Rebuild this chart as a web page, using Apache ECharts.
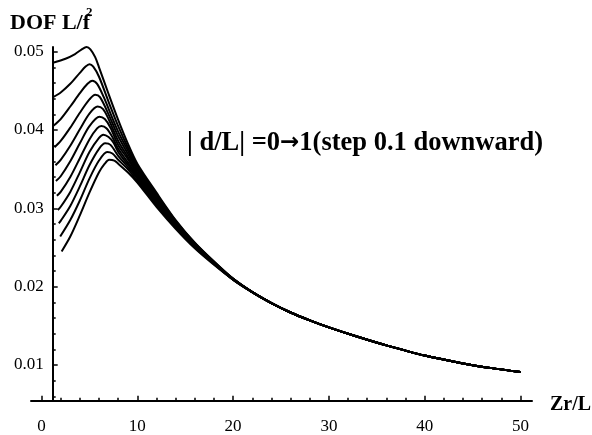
<!DOCTYPE html>
<html>
<head>
<meta charset="utf-8">
<script src="https://cdn.jsdelivr.net/npm/echarts@6/dist/echarts.min.js"></script>
<style>html,body{margin:0;padding:0;background:#fff;}#c{width:592px;height:435px;}</style>
</head>
<body>
<div id="c"></div>
<script>
// Tick positions / labels
const xMajorTicks = [0, 10, 20, 30, 40, 50];
const xMinorTicks = [2, 4, 6, 8, 12, 14, 16, 18, 22, 24, 26, 28, 32, 34, 36, 38, 42, 44, 46, 48];
const yMajorTicks = [0.01, 0.02, 0.03, 0.04, 0.05];
const yMinorTicks = [0.006, 0.008, 0.012, 0.014, 0.016, 0.018, 0.022, 0.024, 0.026, 0.028,
                     0.032, 0.034, 0.036, 0.038, 0.042, 0.044, 0.046, 0.048];

// |d/L| values, one curve each
const dValues = [0, 0.1, 0.2, 0.3, 0.4, 0.5, 0.6, 0.7, 0.8, 0.9, 1.0];

// Left (distinct) parts of each curve [Zr/L, DOF L/f^2]
const curveD00 = [[1.2,0.0486],[2.5,0.0491],[3.5,0.0497],[4.2,0.0503],[4.7,0.0506],[5.1,0.0503],[5.6,0.0493],[6,0.0480],[7,0.0446],[8,0.0413],[9,0.0383],[10,0.0357],[12,0.0320],[14,0.0285],[16,0.0256],[18,0.0232],[20,0.0210]];
const curveD01 = [[1.2,0.0442],[2,0.0448],[3,0.0459],[4,0.0473],[4.6,0.0481],[5.0,0.0484],[5.4,0.0481],[6,0.0468],[7,0.0436],[8,0.0405],[9,0.0378],[10,0.0354],[12,0.0318],[14,0.0284],[16,0.0256],[18,0.0232],[20,0.0210]];
const curveD02 = [[1.2,0.0405],[2,0.0414],[3,0.0430],[4,0.0447],[4.8,0.0459],[5.3,0.0463],[5.8,0.0459],[6.5,0.0442],[7,0.0427],[8,0.0398],[9,0.0374],[10,0.0351],[12,0.0316],[14,0.0283],[16,0.0255],[18,0.0231],[20,0.0210]];
const curveD03 = [[1.35,0.0378],[2,0.0386],[3,0.0403],[4,0.0422],[5,0.0439],[5.6,0.0445],[6.1,0.0442],[7,0.0420],[8,0.0392],[9,0.0370],[10,0.0349],[12,0.0314],[14,0.0282],[16,0.0254],[18,0.0231],[20,0.0210]];
const curveD04 = [[1.45,0.0355],[2,0.0362],[3,0.0380],[4,0.0401],[5,0.0421],[5.85,0.0430],[6.4,0.0427],[7,0.0414],[8,0.0386],[9,0.0366],[10,0.0346],[12,0.0312],[14,0.0281],[16,0.0254],[18,0.0231],[20,0.0210]];
const curveD05 = [[1.5,0.0335],[2,0.0341],[3,0.0360],[4,0.0383],[5,0.0405],[6.05,0.0417],[6.6,0.0414],[7.2,0.0403],[8,0.0381],[9,0.0363],[10,0.0344],[12,0.0311],[14,0.0280],[16,0.0253],[18,0.0230],[20,0.0210]];
const curveD06 = [[1.6,0.0316],[2,0.0321],[3,0.0340],[4,0.0364],[5,0.0388],[5.8,0.0402],[6.25,0.0405],[6.8,0.0402],[7.4,0.0391],[8,0.0376],[9,0.0359],[10,0.0342],[12,0.0309],[14,0.0279],[16,0.0252],[18,0.0230],[20,0.0209]];
const curveD07 = [[1.7,0.0298],[2,0.0302],[3,0.0321],[4,0.0346],[5,0.0372],[6,0.0390],[6.45,0.0394],[7,0.0391],[7.5,0.0384],[8,0.0372],[9,0.0356],[10,0.0340],[12,0.0307],[14,0.0278],[16,0.0252],[18,0.0230],[20,0.0209]];
const curveD08 = [[1.8,0.0281],[2,0.0284],[3,0.0303],[4,0.0328],[5,0.0355],[6,0.0376],[6.65,0.0383],[7.2,0.0381],[8,0.0367],[9,0.0353],[10,0.0338],[12,0.0305],[14,0.0277],[16,0.0251],[18,0.0229],[20,0.0209]];
const curveD09 = [[1.95,0.0264],[3,0.0285],[4,0.0310],[5,0.0338],[6,0.0361],[6.85,0.0372],[7.4,0.0370],[8,0.0362],[9,0.0350],[10,0.0335],[12,0.0304],[14,0.0276],[16,0.0250],[18,0.0229],[20,0.0209]];
const curveD10 = [[2.1,0.0245],[3,0.0264],[4,0.0291],[5,0.0320],[6,0.0346],[6.6,0.0357],[7.05,0.0362],[7.6,0.0361],[8,0.0357],[9,0.0346],[10,0.0333],[12,0.0302],[14,0.0274],[16,0.0249],[18,0.0228],[20,0.0209]];

// Common right part where all curves coincide
const commonTail = [[22,0.0193],[24,0.0179],[26,0.0167],[28,0.0157],[30,0.0148],[33,0.0136],[36,0.0125],[40,0.0112],[44,0.0102],[47,0.0096],[50,0.0091]];

const curveHeads = [curveD00, curveD01, curveD02, curveD03, curveD04, curveD05, curveD06, curveD07, curveD08, curveD09, curveD10];

const X_MIN = -1.1, X_MAX = 51.2, Y_MIN = 0.00544, Y_MAX = 0.0506;
const FONT = '"Liberation Serif", "DejaVu Serif", serif';

const chart = echarts.init(document.getElementById('c'), null, {renderer: 'canvas'});

const gridBox = {left: 31, right: 60, top: 47, bottom: 34.3};
const yOffset = -21.7;

const series = curveHeads.map((head, i) => ({
  name: '|d/L|=' + dValues[i],
  type: 'line',
  xAxisIndex: 0,
  yAxisIndex: 0,
  data: head.concat(commonTail),
  showSymbol: false,
  symbol: 'none',
  smooth: 0.3,
  clip: false,
  lineStyle: {color: '#000', width: 2},
  silent: true
}));

chart.setOption({
  animation: false,
  backgroundColor: '#fff',
  grid: [
    Object.assign({}, gridBox),
    Object.assign({}, gridBox)
  ],
  xAxis: [
    {
      gridIndex: 0, type: 'value', min: X_MIN, max: X_MAX, position: 'bottom',
      axisLine: {show: true, lineStyle: {color: '#000', width: 2}},
      axisTick: {show: true, inside: true, length: 5, lineStyle: {color: '#000', width: 1.5}, customValues: xMajorTicks},
      axisLabel: {show: true, customValues: xMajorTicks, margin: 17, color: '#000', fontSize: 17, fontFamily: FONT,
                  formatter: v => String(Math.round(v))},
      splitLine: {show: false}
    },
    {
      gridIndex: 1, type: 'value', min: X_MIN, max: X_MAX, position: 'bottom',
      axisLine: {show: false},
      axisTick: {show: true, inside: true, length: 3, lineStyle: {color: '#000', width: 1.5}, customValues: xMinorTicks},
      axisLabel: {show: false},
      splitLine: {show: false}
    }
  ],
  yAxis: [
    {
      gridIndex: 0, type: 'value', min: Y_MIN, max: Y_MAX, position: 'left', offset: yOffset,
      axisLine: {show: true, lineStyle: {color: '#000', width: 2}},
      axisTick: {show: true, inside: true, length: 5, lineStyle: {color: '#000', width: 1.5}, customValues: yMajorTicks},
      axisLabel: {show: true, customValues: yMajorTicks, margin: 9, color: '#000', fontSize: 17, fontFamily: FONT,
                  formatter: v => v.toFixed(2)},
      splitLine: {show: false}
    },
    {
      gridIndex: 1, type: 'value', min: Y_MIN, max: Y_MAX, position: 'left', offset: yOffset,
      axisLine: {show: false},
      axisTick: {show: true, inside: true, length: 3, lineStyle: {color: '#000', width: 1.5}, customValues: yMinorTicks},
      axisLabel: {show: false},
      splitLine: {show: false}
    }
  ],
  graphic: [
    {type: 'text', x: 10, y: 23, style: {text: 'DOF L/f', font: 'bold 22px ' + FONT, fill: '#000', textAlign: 'left', textVerticalAlign: 'middle'}},
    {type: 'text', x: 86, y: 13, style: {text: '2', font: 'bold 13px ' + FONT, fill: '#000', textAlign: 'left', textVerticalAlign: 'middle'}},
    {type: 'text', x: 187, y: 143, style: {
      text: '{a|| d/L| =0}{b|\u2192}{a|1(step 0.1 downward)}',
      fill: '#000', textAlign: 'left', textVerticalAlign: 'middle',
      rich: {
        a: {font: 'bold 26.5px ' + FONT, fill: '#000'},
        b: {font: 'bold 23px "DejaVu Sans", sans-serif', fill: '#000'}
      }
    }},
    {type: 'text', x: 550, y: 405, style: {text: 'Zr/L', font: 'bold 20px ' + FONT, fill: '#000', textAlign: 'left', textVerticalAlign: 'middle'}}
  ],
  series: series
});
</script>
</body>
</html>
